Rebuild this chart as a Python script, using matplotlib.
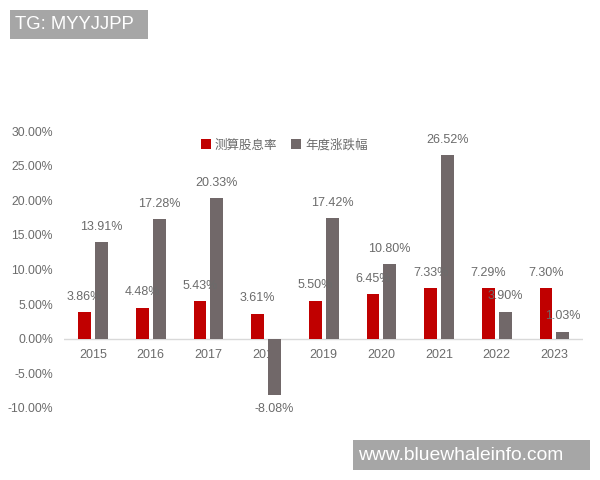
import matplotlib
matplotlib.use("Agg")
import matplotlib.pyplot as plt
import numpy as np
from matplotlib.patches import Rectangle

years = ["2015", "2016", "2017", "2018", "2019", "2020", "2021", "2022", "2023"]
dividend_yield = [3.86, 4.48, 5.43, 3.61, 5.50, 6.45, 7.33, 7.29, 7.30]
annual_change = [13.91, 17.28, 20.33, -8.08, 17.42, 10.80, 26.52, 3.90, 1.03]
yticks = [-10, -5, 0, 5, 10, 15, 20, 25, 30]

red = "#C00000"
grey = "#716869"
txt = "#6b6b6b"
num_font = ["Liberation Sans", "DejaVu Sans"]
cjk_font = ["Noto Sans CJK SC", "DejaVu Sans"]

fig = plt.figure(figsize=(6, 4.8), dpi=100)
ax = fig.add_axes([0.107, 0.15, 0.865, 0.577])

x = np.arange(len(years))
off = 0.145
w = 0.225
ax.bar(x - off, dividend_yield, w, color=red, zorder=2, label="测算股息率")
ax.bar(x + off, annual_change, w, color=grey, zorder=2, label="年度涨跌幅")

for i in range(len(years)):
    v = dividend_yield[i]
    ax.annotate(f"{v:.2f}%", (x[i] - off, v), xytext=(0, 11), textcoords="offset points",
                ha="center", va="center", color=txt, fontsize=9, family=num_font, zorder=3)
    v = annual_change[i]
    dy = 11 if v >= 0 else -10
    ax.annotate(f"{v:.2f}%", (x[i] + off, v), xytext=(0, dy), textcoords="offset points",
                ha="center", va="center", color=txt, fontsize=9, family=num_font, zorder=3)
    # year labels sit under the bars (2018 is partly hidden in the original)
    ax.annotate(years[i], (x[i], 0), xytext=(0, -11.5), textcoords="offset points",
                ha="center", va="center", color=txt, fontsize=9, family=num_font, zorder=1)

ax.axhline(0, color="#d9d9d9", lw=1, zorder=1)
ax.set_xlim(-0.5, 8.5)
ax.set_ylim(-10, 30)
ax.set_yticks(yticks)
ax.set_yticklabels([f"{t:.2f}%" for t in yticks], family=num_font, fontsize=8.8, color=txt)
ax.set_xticks([])
ax.tick_params(axis="y", length=0, pad=8)
for s in ax.spines.values():
    s.set_visible(False)

leg = ax.legend(loc="center", bbox_to_anchor=(0.474, 0.698), bbox_transform=fig.transFigure,
                ncol=2, frameon=False, handlelength=0.8, handleheight=0.8, handletextpad=0.3,
                columnspacing=1.1, prop={"family": cjk_font, "size": 9})
for t in leg.get_texts():
    t.set_color(txt)

# watermark boxes
fig.patches.append(Rectangle((10 / 600, 1 - 39 / 480), 138 / 600, 29 / 480,
                             transform=fig.transFigure, facecolor="#a6a6a6", edgecolor="none"))
fig.text(15 / 600, 1 - 24.5 / 480, "TG: MYYJJPP", color="white", fontsize=13.3,
         family="Liberation Sans", va="center", ha="left")
fig.patches.append(Rectangle((353 / 600, 1 - 470 / 480), 237 / 600, 30 / 480,
                             transform=fig.transFigure, facecolor="#a6a6a6", edgecolor="none"))
fig.text(358 / 600, 1 - 455 / 480, "www.bluewhaleinfo.com", color="white", fontsize=13.9,
         family="Liberation Sans", va="center", ha="left")

fig.savefig("out.png", dpi=100)
